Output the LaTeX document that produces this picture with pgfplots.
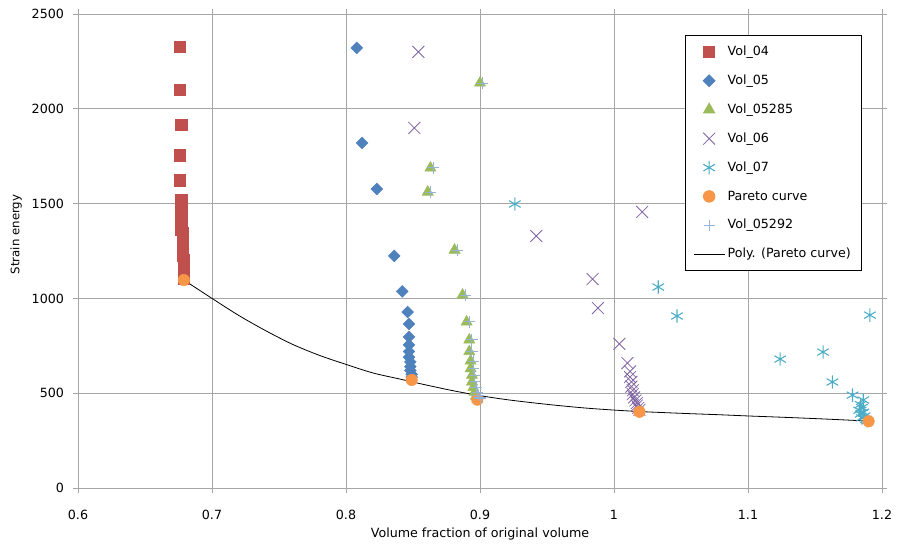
\documentclass[border=0pt]{standalone}
\usepackage{fontspec}
\setmainfont{DejaVu Sans}
\usepackage{pgfplots}
\pgfplotsset{compat=1.18}
\definecolor{c04}{HTML}{C0504D}
\definecolor{c05}{HTML}{4F81BD}
\definecolor{c0528}{HTML}{9BBB59}
\definecolor{c06}{HTML}{8064A2}
\definecolor{c07}{HTML}{4BACC6}
\definecolor{cpar}{HTML}{F79646}
\definecolor{c0529}{HTML}{95B3D7}
\pgfplotsset{
  mk/.style={only marks,
    legend image code/.code={\draw[mark repeat=2,mark phase=2,##1] plot coordinates {(0pt,0pt) (11.5pt,0pt) (23pt,0pt)};}},
  lineleg/.style={legend image code/.code={\draw[##1] (0pt,0pt) -- (23pt,0pt);}},
}
\begin{document}
\begin{tikzpicture}
\begin{axis}[
  scale only axis, width=603pt, height=355.5pt,
  xmin=0.6, xmax=1.2, ymin=0, ymax=2500,
  xtick={0.6,0.7,0.8,0.9,1,1.1,1.2},
  xticklabels={0.6,0.7,0.8,0.9,1,1.1,1.2},
  ytick={0,500,1000,1500,2000,2500},
  yticklabels={0,500,1000,1500,2000,2500},
  grid=major, grid style={gray!70, line width=0.7pt},
  axis line style={gray!70, line width=0.7pt},
  tick align=outside, major tick length=4pt, tick style={gray!70, line width=0.7pt},
  tick label style={font=\fontsize{9.5}{11}\selectfont},
  xticklabel style={yshift=-9pt},
  yticklabel style={xshift=-3pt},
  xlabel={Volume fraction of original volume},
  ylabel={Strain energy},
  xlabel style={font=\fontsize{9.5}{11}\selectfont, at={(axis description cs:0.5,-0.0975)}, anchor=center},
  ylabel style={font=\fontsize{8.8}{10}\selectfont, at={(axis description cs:-0.0768,0.535)}, anchor=center},
  legend style={at={(0.975,0.956)}, anchor=north east, draw=black, line width=0.7pt,
    font=\fontsize{9.5}{11}\selectfont, row sep=9pt, inner xsep=6pt, inner ysep=6pt},
  legend cell align=left,
]
\addplot[mk, mark=square*, mark size=4.3pt, color=c04] coordinates {
(0.676,2326) (0.676,2099) (0.677,1915) (0.676,1756) (0.676,1622) (0.677,1521)
(0.677,1465) (0.677,1445) (0.677,1425) (0.677,1405) (0.677,1385) (0.677,1365)
(0.678,1345) (0.678,1325) (0.678,1305) (0.678,1285) (0.678,1265) (0.678,1245)
(0.678,1225) (0.679,1205) (0.679,1185) (0.679,1165) (0.679,1145) (0.679,1125) (0.679,1105)};
\addlegendentry{Vol\_04}
\addplot[mk, mark=square*, mark size=3.1pt, mark options={rotate=45}, color=c05] coordinates {
(0.808,2321) (0.812,1820) (0.823,1577) (0.836,1224) (0.842,1037) (0.846,928)
(0.847,865) (0.847,797) (0.847,755) (0.847,720) (0.847,690) (0.848,665)
(0.848,640) (0.848,620) (0.849,600) (0.849,585)};
\addlegendentry{Vol\_05}
\addplot[mk, mark=triangle*, mark size=4.8pt, color=c0528] coordinates {
(0.900,2136) (0.863,1688) (0.861,1561) (0.881,1255) (0.887,1018) (0.890,876)
(0.892,781) (0.892,720) (0.893,670) (0.893,630) (0.894,595) (0.894,560)
(0.895,530) (0.896,505) (0.897,485) (0.898,470)};
\addlegendentry{Vol\_05285}
\addplot[mk, mark=x, mark size=6.3pt, color=c06, mark options={line width=0.6pt}] coordinates {
(0.854,2300) (0.851,1899) (0.942,1329) (1.021,1456) (0.984,1102) (0.988,949)
(1.004,760) (1.010,659) (1.012,615) (1.012,585) (1.013,560) (1.013,535)
(1.014,515) (1.014,495) (1.015,478) (1.016,462) (1.017,448) (1.017,435)
(1.018,422) (1.019,412)};
\addlegendentry{Vol\_06}
\addplot[mk, mark=asterisk, mark size=5pt, color=c07, mark options={line width=0.8pt}] coordinates {
(0.926,1498) (1.033,1060) (1.047,907) (1.191,912) (1.124,680) (1.156,717)
(1.163,559) (1.178,490) (1.186,464) (1.184,440) (1.185,425) (1.183,410)
(1.186,400) (1.184,390) (1.187,380) (1.185,370) (1.188,362) (1.189,355)};
\addlegendentry{Vol\_07}
\addplot[mk, mark=*, mark size=4.3pt, color=cpar] coordinates {
(0.679,1097) (0.849,570) (0.898,466) (1.019,402) (1.190,352)};
\addlegendentry{Pareto curve}
\addplot[mk, mark=+, mark size=4.2pt, color=c0529, mark options={line width=0.7pt}] coordinates {
(0.902,2136) (0.865,1688) (0.863,1561) (0.883,1255) (0.889,1018) (0.892,876)
(0.894,781) (0.894,720) (0.895,670) (0.895,630) (0.896,595) (0.896,560)
(0.897,530) (0.898,505) (0.899,490) (0.900,478) (0.900,470)};
\addlegendentry{Vol\_05292}
\addplot[lineleg, black, line width=0.6pt, smooth, no marks] coordinates {
(0.679,1097) (0.70,1000) (0.72,910) (0.74,830) (0.76,758) (0.78,700) (0.80,652)
(0.82,607) (0.84,575) (0.86,543) (0.88,513) (0.90,487) (0.92,466) (0.94,449)
(0.96,434) (0.98,421) (1.00,411) (1.02,403) (1.05,394) (1.08,386) (1.10,380)
(1.13,372) (1.16,363) (1.19,353)};
\addlegendentry{Poly. (Pareto curve)}
\end{axis}
\pgfresetboundingbox
\path[use as bounding box] ([xshift=-58.5pt,yshift=-44.25pt]current axis.south west) rectangle ([xshift=14.25pt,yshift=10.5pt]current axis.north east);
\end{tikzpicture}
\end{document}
